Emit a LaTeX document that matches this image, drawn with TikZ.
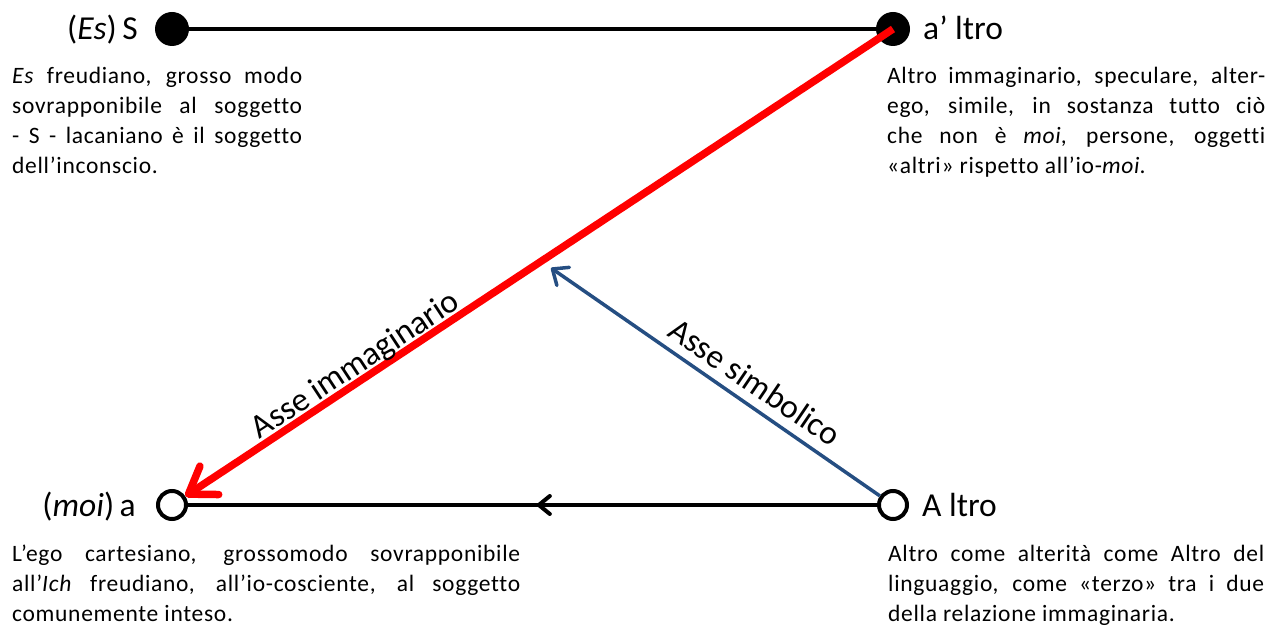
\documentclass[tikz,border=0pt]{standalone}
\usepackage{fontspec}
\setmainfont{Carlito}[Ligatures=CommonOff]
\newfontfamily\descfont{Carlito}[Ligatures=CommonOff,LetterSpace=3]
\usetikzlibrary{arrows.meta,decorations.markings}
\pgfdeclarelayer{bg}
\pgfsetlayers{bg,main}
\definecolor{axisblue}{RGB}{37,78,130}
\definecolor{axisred}{RGB}{255,0,0}
\begin{document}
\begin{tikzpicture}[x=1pt,y=-1pt,
  filled/.style={circle,fill=black,minimum size=34pt,inner sep=0pt},
  hollow/.style={circle,draw=black,line width=4pt,fill=white,minimum size=28pt,inner sep=0pt},
  lbl/.style={font=\fontsize{33.5}{38}\selectfont,inner sep=0pt},
  desc/.style={font=\descfont\fontsize{23.5}{30}\selectfont,align=justify,inner sep=0pt,anchor=base west},
  axislbl/.style={font=\fontsize{33.5}{38}\selectfont,inner sep=0pt},
  blackline/.style={draw=black,line width=4pt},
  redaxis/.style={draw=axisred,line width=7.5pt,-{Straight Barb[length=25pt,width=34pt,round]}},
  blueaxis/.style={draw=axisblue,line width=3.5pt,-{Straight Barb[length=13pt,width=22pt,round]}},
  midarrow/.style={postaction={decorate},decoration={markings,
     mark=at position 0.494 with {\arrow{Straight Barb[length=11pt,width=18pt,round]}}}}
]
\useasboundingbox (0,0) rectangle (1285,628);

% points
\node[filled] (S) at (172,29) {};
\node[filled] (ap) at (893,29) {};
\node[hollow] (a) at (172,505) {};
\node[hollow] (A) at (893,505) {};
\coordinate (bt) at (551,268);

% connectors
\begin{pgfonlayer}{bg}
\draw[blackline] (S.center) -- (ap.center);
\draw[blackline,midarrow] (A.center) -- (a.center);
\end{pgfonlayer}
\draw[redaxis] (ap.center) -- (a);
\draw[blueaxis] (A) -- (bt);

% point labels
\node[lbl,anchor=base east] (lS) at (138,40) {(\textit{Es})\,S};
\node[lbl,anchor=base west] (lap) at (923,40) {a’ ltro};
\node[lbl,anchor=base east] (la) at (136,516) {(\textit{moi})\,a};
\node[lbl,anchor=base west] (lA) at (922,516) {A ltro};

% axis labels
\node[axislbl,rotate=33.3] (ti) at (356,366) {Asse immaginario};
\node[axislbl,rotate=-34.2] (ts) at (755,382) {Asse simbolico};

% descriptions
\node[desc,text width=290pt] (dS) at (12,84) {\textit{Es} freudiano, grosso modo\linebreak sovrapponibile al soggetto\linebreak - S - lacaniano è il soggetto\linebreak dell’inconscio.};
\node[desc,text width=378pt] (dap) at (887,84) {Altro immaginario, speculare, alter-\linebreak ego, simile, in sostanza tutto ciò\linebreak che non è \textit{moi}, persone, oggetti\linebreak «altri» rispetto all’io-\textit{moi}.};
\node[desc,text width=508pt] (da) at (12,561) {L’ego cartesiano, grossomodo sovrapponibile\linebreak all’\textit{Ich} freudiano, all’io-cosciente, al soggetto\linebreak comunemente inteso.};
\node[desc,text width=376pt] (dA) at (888,561) {Altro come alterità come Altro del\linebreak linguaggio, come «terzo» tra i due\linebreak della relazione immaginaria.};
\end{tikzpicture}
\end{document}
